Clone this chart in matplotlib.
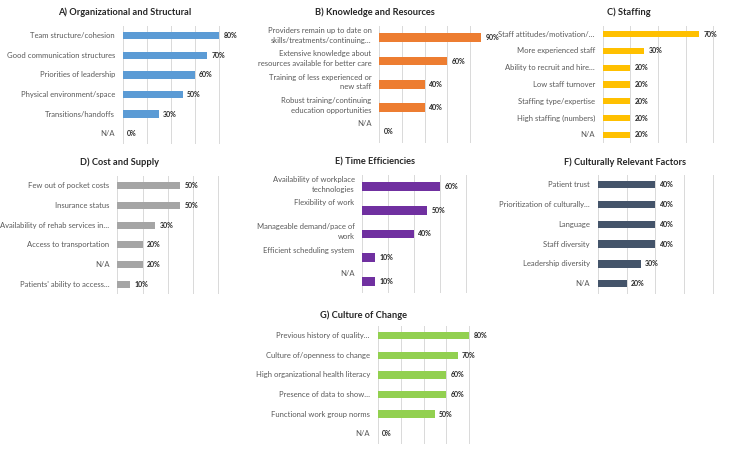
import matplotlib
matplotlib.use("Agg")
import matplotlib.pyplot as plt

plt.rcParams['font.family'] = ['Lato', 'DejaVu Sans']

W, H = 750, 451

# ---- data ----
titles = ["A) Organizational and Structural", "B) Knowledge and Resources", "C) Staffing",
          "D) Cost and Supply", "E) Time Efficiencies", "F) Culturally Relevant Factors",
          "G) Culture of Change"]

labels_a = ["Team structure/cohesion", "Good communication structures", "Priorities of leadership",
            "Physical environment/space", "Transitions/handoffs", "N/A"]
values_a = [80, 70, 60, 50, 30, 0]

labels_b = ["Providers remain up to date on\nskills/treatments/continuing…",
            "Extensive knowledge about\nresources available for better care",
            "Training of less experienced or\nnew staff",
            "Robust training/continuing\neducation opportunities", "N/A"]
values_b = [90, 60, 40, 40, 0]

labels_c = ["Staff attitudes/motivation/…", "More experienced staff", "Ability to recruit and hire…",
            "Low staff turnover", "Staffing type/expertise", "High staffing (numbers)", "N/A"]
values_c = [70, 30, 20, 20, 20, 20, 20]

labels_d = ["Few out of pocket costs", "Insurance status", "Availability of rehab services in…",
            "Access to transportation", "N/A", "Patients' ability to access…"]
values_d = [50, 50, 30, 20, 20, 10]

labels_e = ["Availability of workplace\ntechnologies", "Flexibility of work",
            "Manageable demand/pace of\nwork", "Efficient scheduling system", "N/A"]
values_e = [60, 50, 40, 10, 10]

labels_f = ["Patient trust", "Prioritization of culturally…", "Language", "Staff diversity",
            "Leadership diversity", "N/A"]
values_f = [40, 40, 40, 40, 30, 20]

labels_g = ["Previous history of quality…", "Culture of/openness to change",
            "High organizational health literacy", "Presence of data to show…",
            "Functional work group norms", "N/A"]
values_g = [80, 70, 60, 60, 50, 0]

colors = ["#5B9BD5", "#ED7D31", "#FFC000", "#A5A5A5", "#7030A0", "#44546A", "#92D050"]

# ---- layout (pixels): x0, x100, y_top, y_bottom, title_x, title_y, top-aligned labels ----
layout = [
    (122.7, 243.3, 25.9, 143.5, 125, 12, False),
    (379.3, 492.7, 26.0, 142.7, 375, 12, True),
    (602.7, 740.7, 25.6, 143.4, 629, 12, False),
    (117.3, 243.3, 175.9, 294.1, 120, 162, False),
    (362.3, 492.0, 174.9, 293.1, 375, 162, True),
    (597.7, 742.0, 174.8, 293.6, 625, 162, False),
    (377.7, 492.3, 325.9, 443.5, 364, 315, False),
]

panels = [(labels_a, values_a), (labels_b, values_b), (labels_c, values_c),
          (labels_d, values_d), (labels_e, values_e), (labels_f, values_f),
          (labels_g, values_g)]

fig = plt.figure(figsize=(W / 100, H / 100), dpi=100)

label_color = "#595959"
for (labels, values), color, title, (x0, x1, yt, yb, tx, ty, topal) in zip(panels, colors, titles, layout):
    ax = fig.add_axes([x0 / W, 1 - yb / H, (x1 - x0) / W, (yb - yt) / H])
    n = len(values)
    ypos = list(range(n))
    ax.barh(ypos, [v / 100 for v in values], height=0.37, color=color, zorder=3)
    ax.set_xlim(0, 1)
    ax.set_ylim(n - 0.5, -0.5)
    ax.set_xticks([0, 0.2, 0.4, 0.6, 0.8, 1.0])
    ax.set_xticklabels([])
    ax.tick_params(length=0)
    ax.set_yticks([])
    ax.grid(axis='x', color="#D9D9D9", linewidth=0.7, zorder=0)
    for s in ax.spines.values():
        s.set_visible(False)
    for i, (lab, v) in enumerate(zip(labels, values)):
        if topal:
            ax.annotate(lab, (0, i - 0.46), xytext=(-5.6, 0), textcoords='offset points',
                        ha='right', va='top', fontsize=5.5, color=label_color, linespacing=1.45)
        else:
            ax.annotate(lab, (0, i), xytext=(-5.6, 0), textcoords='offset points',
                        ha='right', va='center', fontsize=5.5, color=label_color)
        ax.annotate(f"{v}%", (v / 100, i), xytext=(3, 0), textcoords='offset points',
                    ha='left', va='center', fontsize=5.0, fontweight='bold', color="#262626")
    fig.text(tx / W, 1 - ty / H, title, ha='center', va='center', fontsize=6.7,
             fontweight='bold', color="#262626")

fig.savefig("out.png", dpi=100)
